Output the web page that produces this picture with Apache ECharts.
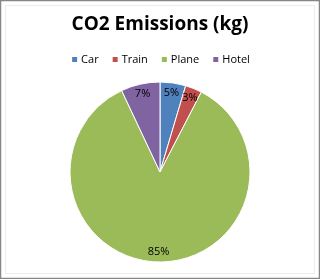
<!DOCTYPE html>
<html>
<head>
<meta charset="utf-8">
<script src="https://cdn.jsdelivr.net/npm/echarts@6/dist/echarts.min.js"></script>
<style>
html,body{margin:0;padding:0;background:#fff;}
#c{width:320px;height:279px;}
</style>
</head>
<body>
<div id="c"></div>
<script>
const titleText = 'CO2 Emissions (kg)';
const categories = ['Car', 'Train', 'Plane', 'Hotel'];
const emissions = [4.6, 3.0, 85.4, 7.0];
const colors = ['#4F81BD', '#C0504D', '#9BBB59', '#8064A2'];

const data = categories.map((n, i) => ({ name: n, value: emissions[i] }));
const chart = echarts.init(document.getElementById('c'), null, { renderer: 'canvas' });
const fontFam = '"Open Sans", "Liberation Sans", sans-serif';
chart.setOption({
  animation: false,
  color: colors,
  title: {
    text: titleText, left: 'center', top: 10,
    textStyle: { fontFamily: fontFam, fontSize: 19, fontWeight: 'bold', color: '#000' }
  },
  legend: {
    data: categories, top: 49, left: 'center',
    itemWidth: 7, itemHeight: 7, itemGap: 12, icon: 'rect',
    textStyle: { fontFamily: fontFam, fontSize: 11, color: '#000', padding: [0, 0, 0, -2] }
  },
  graphic: [
    { type: 'rect', shape: { x: 0.5, y: 0.5, width: 319, height: 278 },
      style: { fill: 'none', stroke: '#868686', lineWidth: 1.5 }, silent: true },
    { type: 'rect', shape: { x: 5.5, y: 5.5, width: 309, height: 268 },
      style: { fill: 'none', stroke: '#ececec', lineWidth: 1 }, silent: true }
  ],
  series: [
    {
      type: 'pie', center: [160, 172], radius: [0, 90], startAngle: 90, clockwise: true,
      label: { show: false }, labelLine: { show: false },
      itemStyle: { borderColor: '#fff', borderWidth: 1 },
      emphasis: { disabled: true },
      data: data
    },
    {
      type: 'pie', center: [160, 172], radius: [64, 90], startAngle: 90, clockwise: true,
      silent: true, legendHoverLink: false,
      itemStyle: { color: 'rgba(0,0,0,0)' },
      label: {
        show: true, position: 'inside', fontFamily: fontFam, fontSize: 11, color: '#000',
        formatter: p => Math.round(p.percent) + '%'
      },
      labelLine: { show: false },
      emphasis: { disabled: true },
      data: data
    }
  ]
});
</script>
</body>
</html>
